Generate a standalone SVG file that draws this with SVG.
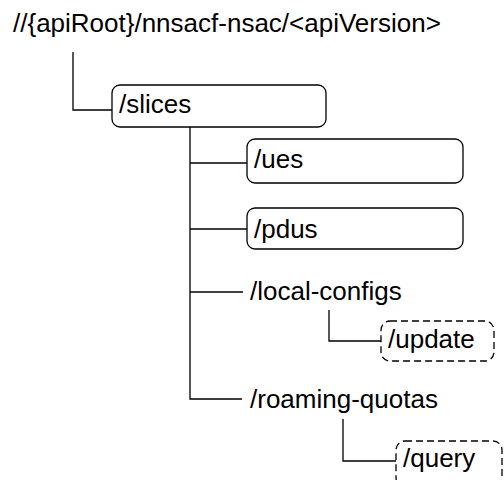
<svg xmlns="http://www.w3.org/2000/svg" width="504" height="480" viewBox="0 0 504 480">
<style>
text{font-family:"Liberation Sans",Arial,sans-serif;font-size:26px;fill:#000}
.box{fill:#fff;stroke:#000;stroke-width:1.3}
.dash{fill:#fff;stroke:#000;stroke-width:1.3;stroke-dasharray:7 4}
.conn{fill:none;stroke:#000;stroke-width:1.3}
</style>
<rect width="504" height="480" fill="#fff"/>
<g id="connectors">
<polyline class="conn" points="73,52 73,110 112,110"/>
<polyline class="conn" points="190,127 190,399 242,399"/>
<line class="conn" x1="190" y1="163" x2="247" y2="163"/>
<line class="conn" x1="190" y1="229" x2="247" y2="229"/>
<line class="conn" x1="190" y1="292" x2="243" y2="292"/>
<polyline class="conn" points="329,310 329,341 381,341"/>
<polyline class="conn" points="343,419 343,461 396,461"/>
</g>
<g id="root"><text x="13" y="32">//{apiRoot}/nnsacf-nsac/&lt;apiVersion&gt;</text></g>
<g id="slices"><rect class="box" x="112" y="85" width="214" height="42" rx="8"/><text x="119" y="113">/slices</text></g>
<g id="ues"><rect class="box" x="247" y="139" width="216" height="44" rx="8"/><text x="254" y="168">/ues</text></g>
<g id="pdus"><rect class="box" x="247" y="208" width="216" height="41" rx="8"/><text x="254" y="238">/pdus</text></g>
<g id="local-configs"><text x="250" y="300">/local-configs</text></g>
<g id="update"><rect class="dash" x="381" y="321" width="113" height="40" rx="9"/><text x="388" y="348">/update</text></g>
<g id="roaming-quotas"><text x="250" y="408">/roaming-quotas</text></g>
<g id="query"><rect class="dash" x="396" y="441" width="106" height="46" rx="9"/><text x="403" y="467">/query</text></g>
</svg>
